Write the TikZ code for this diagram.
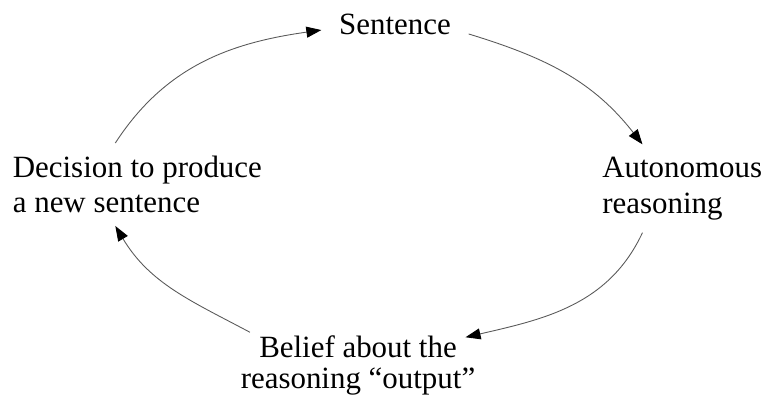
\documentclass[tikz,border=0pt]{standalone}
\usepackage{fontspec}
\setmainfont{Liberation Serif}
\usepackage{tikz}
\usetikzlibrary{arrows.meta}

\begin{document}
\begin{tikzpicture}[x=0.02cm, y=0.02cm,
  lbl/.style={font=\fontsize{17.6}{20.2}\selectfont, inner sep=0.25cm},
  cyc/.style={draw=black!65, line width=0.5pt, -{Triangle[length=0.3cm, width=0.22cm, color=black]}}]
  \useasboundingbox (0,0) rectangle (769,396);

  % the four stages
  \node[lbl, anchor=base, inner xsep=0.35cm, inner ysep=0.1cm] (sent) at (395,361) {Sentence};
  \node[lbl, anchor=west, align=left] (auto) at (589.5,207.5) {Autonomous\\reasoning};
  \node[lbl, anchor=center, align=center, inner sep=0pt,
        font=\fontsize{17.6}{17.6}\selectfont] (belief) at (358,30.7) {Belief about the\\reasoning “output”};
  \node[lbl, anchor=west, align=left] (dec) at (0,211.5) {Decision to produce\\a new sentence};

  % the cycle
  \draw[cyc] (dec.118) to[out=57, in=188] (sent.184);
  \draw[cyc] (sent.353) to[out=-17, in=128] (auto.132);
  \draw[cyc] (auto.228) to[out=245, in=13] ([xshift=-0.2cm, yshift=-0.04cm]belief.north east);
  \draw[cyc] ([xshift=0.19cm, yshift=0.06cm]belief.north west) to[out=152, in=301] (dec.242);
\end{tikzpicture}
\end{document}
